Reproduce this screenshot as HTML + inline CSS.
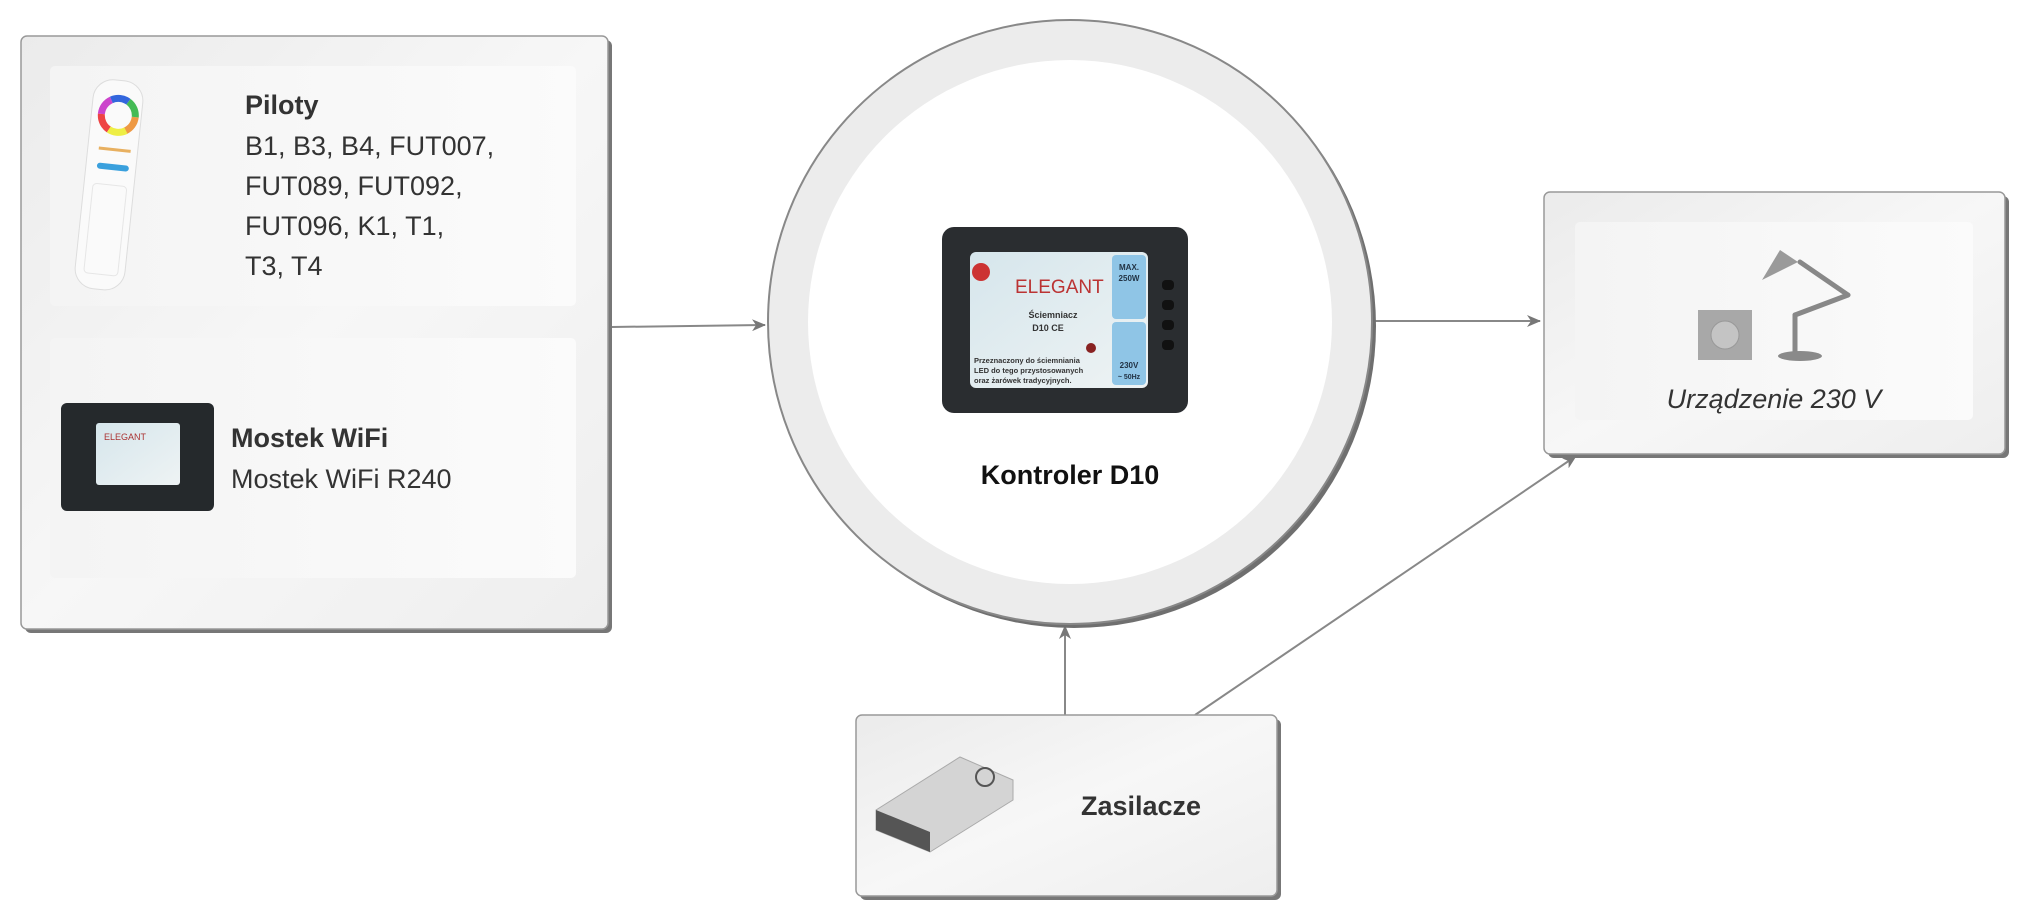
<!DOCTYPE html>
<html><head><meta charset="utf-8"><style>
html,body{margin:0;padding:0;background:#fff;}
svg{display:block;}
text{font-family:"Liberation Sans",sans-serif;}
</style></head><body>
<svg width="2030" height="918" viewBox="0 0 2030 918" xmlns="http://www.w3.org/2000/svg">
<defs>
<linearGradient id="bg" x1="0" y1="0" x2="1" y2="1"><stop offset="0" stop-color="#ebebeb"/><stop offset="0.5" stop-color="#f7f7f7"/><stop offset="1" stop-color="#eeeeee"/></linearGradient>
<linearGradient id="ib" x1="0" y1="0" x2="1" y2="0"><stop offset="0" stop-color="#f4f4f4"/><stop offset="1" stop-color="#fbfbfb"/></linearGradient>
<linearGradient id="lab" x1="0" y1="0" x2="1" y2="1"><stop offset="0" stop-color="#d6e6ec"/><stop offset="1" stop-color="#eef3f4"/></linearGradient>
<marker id="ar" markerWidth="14" markerHeight="12" refX="13" refY="6" orient="auto" markerUnits="userSpaceOnUse"><path d="M0,0 L14,6 L0,12 L4,6 Z" fill="#777"/></marker>
</defs>

<g stroke="#888" stroke-width="2" fill="none">
<line x1="612" y1="327" x2="765" y2="325" marker-end="url(#ar)"/>
<line x1="1374" y1="321" x2="1540" y2="321" marker-end="url(#ar)"/>
<line x1="1065" y1="715" x2="1065" y2="626" marker-end="url(#ar)"/>
<line x1="1195" y1="715" x2="1576" y2="456" marker-end="url(#ar)"/>
</g>

<rect x="25" y="40" width="587" height="593" rx="6" fill="#777"/>
<rect x="21" y="36" width="587" height="593" rx="6" fill="url(#bg)" stroke="#999" stroke-width="1.5"/>
<rect x="50" y="66" width="526" height="240" rx="5" fill="url(#ib)"/>
<rect x="50" y="338" width="526" height="240" rx="5" fill="url(#ib)"/>

<g transform="rotate(6 111 185)">
<rect x="84" y="80" width="50" height="210" rx="20" fill="#fafafa" stroke="#ddd"/>
<circle cx="111" cy="115" r="17" fill="none" stroke="#e94" stroke-width="7" stroke-dasharray="18 89"/>
<circle cx="111" cy="115" r="17" fill="none" stroke="#4b5" stroke-width="7" stroke-dasharray="18 89" stroke-dashoffset="18"/>
<circle cx="111" cy="115" r="17" fill="none" stroke="#36d" stroke-width="7" stroke-dasharray="18 89" stroke-dashoffset="36"/>
<circle cx="111" cy="115" r="17" fill="none" stroke="#c4c" stroke-width="7" stroke-dasharray="18 89" stroke-dashoffset="54"/>
<circle cx="111" cy="115" r="17" fill="none" stroke="#e44" stroke-width="7" stroke-dasharray="18 89" stroke-dashoffset="72"/>
<circle cx="111" cy="115" r="17" fill="none" stroke="#ee4" stroke-width="7" stroke-dasharray="18 89" stroke-dashoffset="90"/>
<rect x="95" y="148" width="32" height="3" fill="#e8b060"/>
<rect x="95" y="164" width="32" height="6" rx="3" fill="#3aa0dd"/>
<rect x="93" y="185" width="34" height="90" rx="4" fill="none" stroke="#e6e6e6"/>
</g>

<text x="245" y="114" font-size="27" font-weight="bold" fill="#333">Piloty</text>
<g font-size="27" fill="#333">
<text x="245" y="155">B1, B3, B4, FUT007,</text>
<text x="245" y="195">FUT089, FUT092,</text>
<text x="245" y="235">FUT096, K1, T1,</text>
<text x="245" y="275">T3, T4</text>
</g>

<rect x="61" y="403" width="153" height="108" rx="6" fill="#25292c"/>
<rect x="96" y="423" width="84" height="62" rx="3" fill="url(#lab)"/>
<text x="104" y="440" font-size="9" fill="#a33" font-family="Liberation Serif,serif">ELEGANT</text>
<text x="231" y="447" font-size="27" font-weight="bold" fill="#333">Mostek WiFi</text>
<text x="231" y="488" font-size="27" fill="#333">Mostek WiFi R240</text>

<circle cx="1074" cy="326" r="302" fill="#6f6f6f"/>
<circle cx="1070" cy="322" r="302" fill="#ececec" stroke="#888" stroke-width="2"/>
<circle cx="1070" cy="322" r="262" fill="#fff"/>

<rect x="942" y="227" width="246" height="186" rx="12" fill="#2a2d30"/>
<rect x="970" y="252" width="178" height="136" rx="6" fill="url(#lab)"/>
<rect x="1112" y="255" width="34" height="64" rx="4" fill="#8fc5e6"/>
<rect x="1112" y="322" width="34" height="63" rx="4" fill="#8fc5e6"/>
<circle cx="981" cy="272" r="9" fill="#c33"/>
<text x="1015" y="293" font-size="19" fill="#b33" font-family="Liberation Serif,serif">ELEGANT</text>
<text x="1053" y="318" font-size="9" font-weight="bold" fill="#333" text-anchor="middle">Ściemniacz</text>
<text x="1048" y="331" font-size="9" font-weight="bold" fill="#333" text-anchor="middle">D10 CE</text>
<circle cx="1091" cy="348" r="5" fill="#822"/>
<text x="974" y="363" font-size="7.5" font-weight="bold" fill="#333">Przeznaczony do ściemniania</text>
<text x="974" y="373" font-size="7.5" font-weight="bold" fill="#333">LED do tego przystosowanych</text>
<text x="974" y="383" font-size="7.5" font-weight="bold" fill="#333">oraz żarówek tradycyjnych.</text>
<text x="1129" y="270" font-size="8" font-weight="bold" fill="#234" text-anchor="middle">MAX.</text>
<text x="1129" y="281" font-size="8" font-weight="bold" fill="#234" text-anchor="middle">250W</text>
<text x="1129" y="368" font-size="8" font-weight="bold" fill="#234" text-anchor="middle">230V</text>
<text x="1129" y="379" font-size="7" font-weight="bold" fill="#234" text-anchor="middle">~ 50Hz</text>
<g fill="#111"><rect x="1162" y="280" width="12" height="10" rx="4"/><rect x="1162" y="300" width="12" height="10" rx="4"/><rect x="1162" y="320" width="12" height="10" rx="4"/><rect x="1162" y="340" width="12" height="10" rx="4"/></g>
<text x="1070" y="484" font-size="27" font-weight="bold" fill="#111" text-anchor="middle">Kontroler D10</text>

<rect x="1548" y="196" width="461" height="262" rx="6" fill="#777"/>
<rect x="1544" y="192" width="461" height="262" rx="6" fill="url(#bg)" stroke="#999" stroke-width="1.5"/>
<rect x="1575" y="222" width="398" height="198" rx="5" fill="url(#ib)"/>
<rect x="1698" y="310" width="54" height="50" fill="#a8a8a8"/>
<circle cx="1725" cy="335" r="14" fill="#c4c4c4" stroke="#999"/>
<g stroke="#888" stroke-width="5" fill="none" stroke-linecap="round">
<line x1="1795" y1="355" x2="1795" y2="315"/>
<line x1="1795" y1="315" x2="1848" y2="295"/>
<line x1="1848" y1="295" x2="1800" y2="262"/>
</g>
<ellipse cx="1800" cy="356" rx="22" ry="5" fill="#8a8a8a"/>
<path d="M1762 280 L1780 250 L1798 262 Z" fill="#9a9a9a"/>
<text x="1774" y="408" font-size="27" font-style="italic" fill="#333" text-anchor="middle">Urządzenie 230 V</text>

<rect x="860" y="719" width="421" height="181" rx="6" fill="#777"/>
<rect x="856" y="715" width="421" height="181" rx="6" fill="url(#bg)" stroke="#999" stroke-width="1.5"/>
<path d="M876 810 L960 757 L1013 780 L1013 800 L930 852 L876 830 Z" fill="#d4d4d4" stroke="#aaa"/>
<path d="M876 810 L930 832 L930 852 L876 830 Z" fill="#555"/>
<circle cx="985" cy="777" r="9" fill="none" stroke="#555" stroke-width="2"/>
<text x="1141" y="815" font-size="27" font-weight="bold" fill="#333" text-anchor="middle">Zasilacze</text>
</svg>
</body></html>
